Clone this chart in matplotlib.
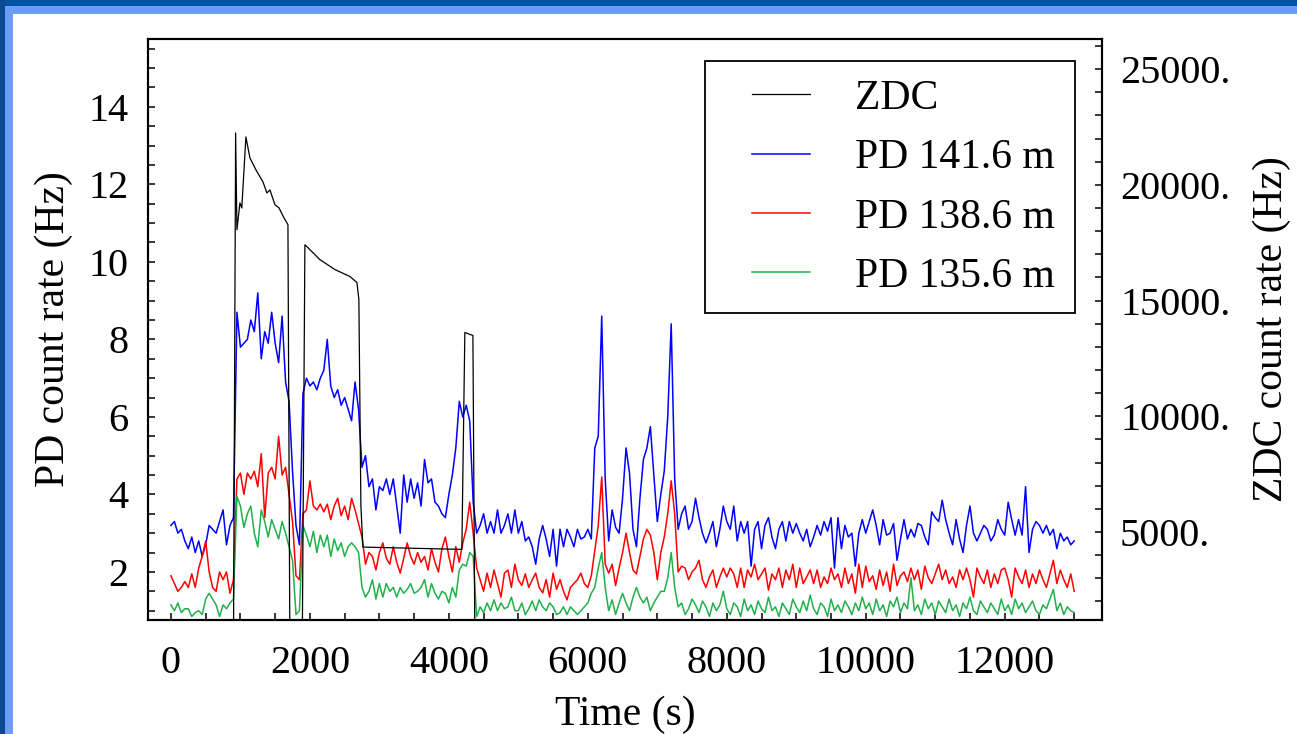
"""
PD and ZDC count rates during a fill: three PD stations on the left axis,
ZDC coincidence rate on a twin right axis.
"""

import numpy as np
import matplotlib
matplotlib.use("Agg")
import matplotlib.pyplot as plt
from matplotlib.patches import Rectangle
from matplotlib.ticker import MultipleLocator, FuncFormatter

plt.rcParams["font.family"] = ["Liberation Serif", "DejaVu Serif"]

# PD samples every 50 s from 0 to 13000 s
SAMPLE_STEP = 50
time_s = np.arange(0, 13000 + SAMPLE_STEP, SAMPLE_STEP)

pd_141_6 = [
    3.2, 3.3, 3.0, 3.1, 2.8, 2.6, 2.9, 2.5, 2.8, 2.4, 2.7, 3.2, 3.1, 3.0, 3.3, 3.6, 2.7, 3.2, 3.4, 8.7,
    7.8, 7.9, 8.0, 8.5, 8.2, 9.2, 7.5, 8.2, 7.9, 8.7, 7.9, 7.4, 8.6, 6.9, 6.4, 4.6, 3.2, 2.7, 6.6, 7.0,
    6.8, 6.9, 6.7, 7.0, 7.2, 8.0, 6.8, 6.5, 6.7, 6.3, 6.5, 6.2, 5.9, 6.9, 6.2, 4.7, 5.0, 4.2, 4.4, 3.6,
    4.2, 4.1, 4.4, 4.0, 4.4, 3.7, 3.0, 4.5, 3.8, 4.4, 3.9, 4.3, 3.7, 4.9, 4.3, 4.4, 3.8, 3.7, 3.5, 3.4,
    4.0, 4.5, 5.2, 6.4, 6.0, 6.3, 5.9, 3.8, 3.0, 3.2, 3.5, 3.0, 3.3, 3.0, 3.6, 3.0, 3.2, 3.5, 3.0, 3.6,
    3.0, 3.3, 2.8, 2.9, 2.65, 2.2, 2.85, 3.2, 2.85, 2.4, 3.1, 2.15, 3.1, 2.65, 3.1, 2.9, 2.65, 3.1, 2.85, 2.9,
    3.1, 2.85, 5.2, 5.5, 8.6, 4.4, 2.8, 3.6, 3.15, 3.0, 3.9, 5.2, 4.55, 3.1, 2.65, 3.9, 4.9, 5.2, 5.75, 4.5,
    3.3, 4.0, 4.6, 6.0, 8.4, 4.4, 3.1, 3.5, 3.7, 3.1, 3.3, 3.9, 3.4, 3.0, 2.75, 3.0, 3.3, 2.65, 3.1, 3.7,
    3.3, 3.1, 3.7, 2.8, 3.3, 3.0, 3.3, 2.15, 3.1, 3.3, 2.6, 3.2, 3.4, 2.9, 2.6, 3.1, 3.3, 2.8, 3.3, 3.0,
    3.25, 3.0, 2.8, 3.1, 2.65, 2.9, 3.2, 2.95, 3.3, 3.05, 3.4, 2.1, 3.4, 2.6, 3.2, 2.9, 3.0, 2.15, 3.0, 3.35,
    3.0, 3.3, 3.6, 3.2, 2.7, 3.35, 2.95, 3.0, 3.25, 2.3, 2.85, 3.35, 2.85, 3.1, 2.9, 3.25, 3.2, 2.9, 2.7, 3.55,
    3.4, 3.3, 3.85, 3.35, 3.0, 2.7, 3.35, 2.85, 2.5, 3.2, 3.7, 3.0, 2.8, 3.0, 3.2, 3.1, 2.8, 2.95, 3.35, 3.1,
    2.95, 3.8, 3.35, 2.95, 3.35, 2.95, 4.2, 2.5, 3.1, 3.3, 3.2, 3.0, 3.2, 2.95, 3.1, 2.6, 3.0, 2.8, 2.9, 2.7,
    2.8,
]

pd_138_6 = [
    1.9, 1.7, 1.5, 1.6, 1.75, 1.6, 1.95, 1.6, 2.1, 2.4, 2.8, 2.0, 1.6, 1.5, 2.0, 1.8, 2.0, 1.45, 1.8, 4.4,
    4.55, 4.0, 4.55, 4.4, 4.6, 4.2, 5.05, 3.4, 4.55, 4.7, 4.4, 5.5, 4.5, 4.7, 4.0, 3.3, 1.9, 1.8, 3.5, 3.6,
    4.35, 3.7, 3.6, 3.75, 3.55, 3.75, 3.35, 3.7, 3.9, 3.45, 3.7, 3.35, 3.9, 3.6, 3.25, 2.9, 2.2, 2.5, 2.4, 2.05,
    2.5, 2.75, 2.35, 2.2, 2.65, 2.25, 1.97, 2.35, 2.75, 2.4, 2.2, 2.5, 2.25, 2.4, 2.05, 2.6, 2.25, 2.0, 2.6, 2.9,
    2.4, 2.0, 2.65, 2.25, 2.75, 3.1, 3.8, 3.0, 2.1, 1.8, 1.5, 1.97, 1.6, 2.05, 1.7, 1.35, 1.97, 2.05, 1.6, 2.2,
    1.8, 1.65, 1.95, 1.6, 1.8, 1.97, 1.6, 1.46, 1.8, 1.35, 1.97, 1.55, 1.8, 1.5, 1.28, 1.6, 1.7, 1.8, 1.97, 1.7,
    1.6, 1.9, 2.55, 3.2, 4.45, 2.2, 1.97, 2.2, 1.65, 2.1, 2.5, 3.0, 2.5, 2.05, 1.95, 2.4, 2.85, 3.1, 2.95, 2.5,
    1.8, 2.5, 2.9, 3.5, 4.35, 3.5, 2.0, 2.15, 2.1, 1.8, 2.0, 2.1, 2.3, 1.8, 1.6, 1.87, 2.05, 1.6, 1.87, 2.1,
    1.87, 2.1, 1.95, 1.6, 2.1, 1.6, 2.05, 1.87, 2.2, 1.8, 1.95, 2.1, 1.53, 1.95, 1.8, 2.1, 1.6, 2.05, 1.8, 2.2,
    1.6, 2.1, 1.7, 1.87, 2.05, 1.7, 2.05, 1.6, 1.87, 1.7, 2.1, 1.8, 1.95, 1.6, 2.1, 1.7, 1.95, 1.45, 2.2, 1.6,
    2.15, 1.75, 1.9, 1.55, 2.05, 1.65, 2.0, 1.5, 2.2, 1.65, 1.9, 2.0, 1.75, 2.1, 1.8, 2.05, 1.55, 2.15, 1.85, 1.7,
    1.95, 2.2, 1.8, 2.05, 1.7, 1.87, 1.6, 2.05, 1.8, 2.1, 1.8, 1.35, 2.1, 1.87, 1.7, 2.05, 1.6, 1.95, 1.7, 2.05,
    2.1, 1.8, 1.35, 2.1, 1.87, 1.7, 2.05, 1.6, 1.95, 1.7, 2.05, 1.8, 1.6, 1.95, 2.3, 1.7, 2.05, 1.8, 1.6, 1.95,
    1.5,
]

pd_135_6 = [
    1.15, 1.0, 1.2, 0.95, 1.05, 1.05, 0.85, 0.95, 1.0, 0.9, 1.3, 1.45, 1.3, 1.15, 0.85, 1.15, 1.05, 1.2, 1.3, 3.95,
    3.7, 3.15, 3.5, 3.7, 3.0, 2.65, 3.6, 3.3, 2.9, 3.35, 3.1, 2.85, 3.3, 3.0, 2.65, 2.3, 0.9, 1.0, 3.2, 2.95,
    2.65, 3.05, 2.5, 2.95, 2.65, 2.95, 2.4, 2.85, 2.55, 2.75, 2.4, 2.65, 2.75, 2.65, 2.5, 1.6, 1.35, 1.5, 1.8, 1.3,
    1.7, 1.35, 1.7, 1.5, 1.6, 1.35, 1.6, 1.45, 1.55, 1.7, 1.45, 1.5, 1.6, 1.8, 1.35, 1.7, 1.45, 1.3, 1.5, 1.45,
    1.2, 1.6, 1.35, 2.05, 2.2, 2.15, 2.5, 2.4, 0.85, 1.1, 0.95, 1.2, 1.0, 1.28, 1.0, 1.2, 1.05, 1.1, 1.35, 1.0,
    1.0, 1.2, 0.9, 1.05, 1.25, 1.0, 1.28, 1.1, 1.0, 1.2, 1.1, 0.9, 0.95, 1.1, 0.9, 1.1, 1.0, 0.9, 1.0, 1.1,
    1.2, 1.45, 1.6, 2.1, 2.5, 1.6, 1.0, 1.28, 0.9, 1.2, 1.45, 1.2, 1.0, 1.35, 1.6, 1.35, 1.2, 1.35, 1.0, 1.2,
    1.35, 1.5, 1.5, 1.85, 2.5, 1.6, 1.1, 1.2, 0.9, 1.05, 1.3, 1.15, 0.95, 1.25, 1.1, 0.85, 1.2, 1.0, 1.15, 1.5,
    1.05, 0.9, 1.2, 1.1, 0.85, 1.3, 1.0, 1.15, 0.9, 1.25, 1.05, 0.95, 1.35, 1.0, 1.1, 0.85, 1.2, 1.05, 0.9, 1.3,
    1.1, 0.95, 1.25, 1.0, 1.4, 1.05, 0.9, 1.2, 1.1, 0.85, 1.3, 1.0, 1.15, 0.95, 1.25, 1.1, 0.9, 1.2, 1.0, 1.35,
    1.05, 1.2, 0.9, 1.3, 1.0, 1.15, 0.85, 1.25, 1.1, 1.35, 0.95, 1.2, 1.05, 1.85, 1.0, 1.15, 0.9, 1.3, 1.05, 1.2,
    0.9, 1.25, 1.1, 0.95, 1.3, 1.0, 1.15, 0.85, 1.2, 1.05, 1.35, 1.0, 0.9, 1.25, 1.1, 0.95, 1.2, 1.05, 0.9, 1.3,
    1.0, 1.15, 0.9, 1.3, 1.05, 1.2, 0.95, 1.1, 1.25, 1.0, 0.9, 1.15, 1.05, 1.3, 1.55, 1.0, 1.2, 0.9, 1.1, 1.0,
    0.95,
]

# ZDC rate is piecewise: beam on/off steps with slow decay in between
zdc_time_s = [0, 900, 931, 950, 993, 1020, 1079, 1137, 1223, 1324, 1381, 1425, 1497, 1554, 1626, 1684,
              1712, 1890, 1928, 1957, 2144, 2360, 2576, 2677, 2705, 2734, 2763, 4187, 4230, 4346, 4375,
              13000]
zdc_rate = [0, 0, 22240, 18060, 19220, 19000, 22070, 21160, 20650, 20130, 19650, 19780, 19140, 19010,
            18580, 18280, 0, 0, 17410, 17330, 16770, 16340, 16040, 15780, 15040, 6120, 4350, 4250, 13620,
            13490, 0, 0]

PD_COLORS = {"141.6": "#0000ff", "138.6": "#ff0000", "135.6": "#22b04b"}
FS_TICK = 29
FS_LABEL = 30

fig = plt.figure(figsize=(12.97, 7.34), dpi=100)
fig.patch.set_facecolor("white")

# slide frame: dark strip on the outside, lighter strip inside it
for x, y, w, h, c in [
    (0, 1 - 6 / 734, 1, 6 / 734, "#0052a3"),
    (0, 0, 5 / 1297, 1, "#0a4a8f"),
    (5 / 1297, 1 - 14 / 734, 1 - 5 / 1297, 8 / 734, "#6b9cf7"),
    (5 / 1297, 0, 8 / 1297, 1 - 6 / 734, "#6b9cf7"),
]:
    fig.patches.append(Rectangle((x, y), w, h, transform=fig.transFigure,
                                 facecolor=c, edgecolor="none", zorder=0))

ax = fig.add_axes([148 / 1297, 1 - 620 / 734, 954 / 1297, 581 / 734])
ax2 = ax.twinx()

lines = []
for label, values in [("141.6", pd_141_6), ("138.6", pd_138_6), ("135.6", pd_135_6)]:
    (ln,) = ax.plot(time_s, values, color=PD_COLORS[label], lw=1.1,
                    label=f"PD {label} m")
    lines.append(ln)

(zdc_line,) = ax2.plot(zdc_time_s, zdc_rate, color="black", lw=0.9, label="ZDC")

ax.set_xlim(-330, 13400)
ax.set_ylim(0.76, 15.75)
ax2.set_ylim(1200, 26300)

ax.xaxis.set_major_locator(MultipleLocator(2000))
ax.xaxis.set_minor_locator(MultipleLocator(500))
ax.yaxis.set_major_locator(MultipleLocator(2))
ax.yaxis.set_minor_locator(MultipleLocator(0.5))
ax2.yaxis.set_major_locator(MultipleLocator(5000))
ax2.yaxis.set_minor_locator(MultipleLocator(1000))
ax2.yaxis.set_major_formatter(FuncFormatter(lambda v, _: f"{int(v)}."))

ax.tick_params(axis="both", which="both", direction="in", width=1.1,
               top=False, right=False)
ax.tick_params(axis="both", which="major", length=5, labelsize=FS_TICK)
ax.tick_params(axis="both", which="minor", length=5)
ax.tick_params(axis="y", which="major", pad=14)
ax.tick_params(axis="x", which="major", pad=18)
ax2.tick_params(axis="y", which="both", direction="in", width=1.1, length=5,
                left=False, right=True)
ax2.tick_params(axis="y", which="major", labelsize=FS_TICK, pad=13)

for a in (ax, ax2):
    for sp in a.spines.values():
        sp.set_linewidth(1.5)

ax.set_xlabel("Time (s)", fontsize=FS_LABEL, labelpad=10)
ax.set_ylabel("PD count rate (Hz)", fontsize=FS_LABEL, labelpad=11)
ax2.set_ylabel("ZDC count rate (Hz)", fontsize=FS_LABEL, labelpad=16)

# legend box drawn separately so the inner padding can be wider than tall
ax2.add_patch(Rectangle((0.584, 0.528), 0.388, 0.434, transform=ax2.transAxes,
                        facecolor="white", edgecolor="black", lw=1.3, zorder=5))
leg = ax2.legend([zdc_line] + lines, ["ZDC"] + [ln.get_label() for ln in lines],
                 loc="center left", bbox_to_anchor=(0.633, 0.744),
                 frameon=False, fontsize=FS_LABEL, handlelength=1.39,
                 handletextpad=1.08, labelspacing=0.5, borderpad=0,
                 borderaxespad=0)
leg.set_zorder(6)

fig.savefig("out.png", dpi=100, facecolor=fig.get_facecolor())
